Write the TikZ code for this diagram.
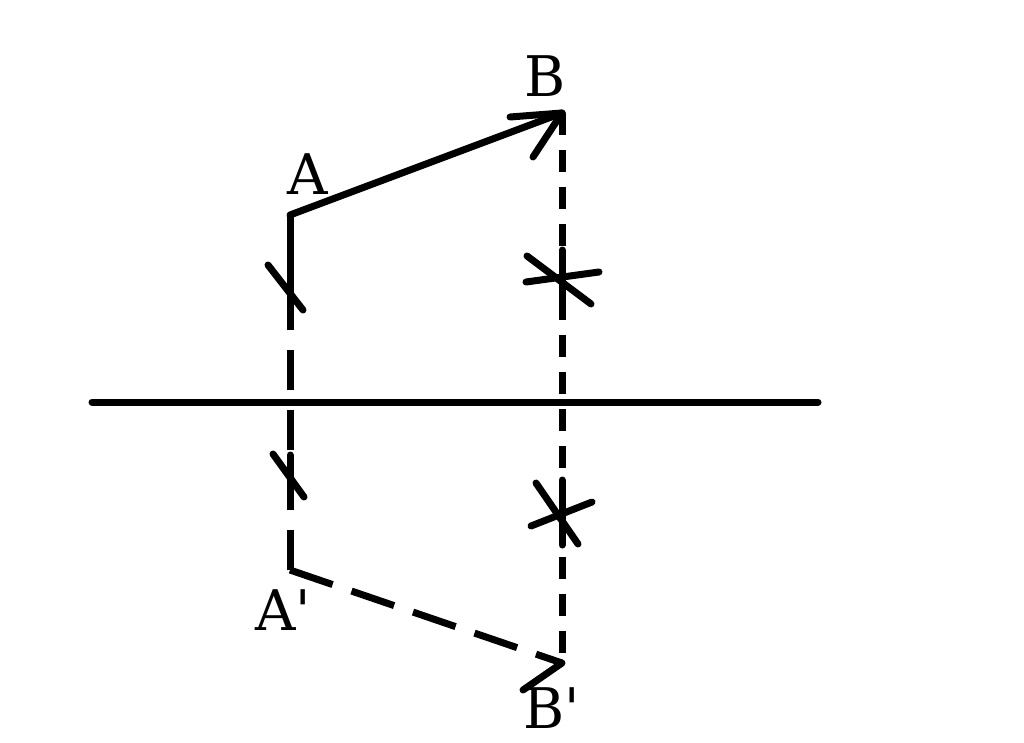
\documentclass[tikz,border=0pt]{standalone}
\usepackage{fontspec}
\setmainfont{DejaVu Serif}
\begin{document}
\begin{tikzpicture}[x=1pt,y=-1pt,
  thick line/.style={line width=7pt,line cap=round},
  longdash/.style={line width=7pt,dash pattern=on 40pt off 20pt},
  shortdash/.style={line width=7pt,dash pattern=on 22pt off 15pt},
  mark line/.style={line width=7pt,line cap=round},
  lbl/.style={font=\fontsize{56}{60}\selectfont,inner sep=0pt}]
\useasboundingbox (0,0) rectangle (1024,742);
\coordinate (A) at (290,215);
\coordinate (B) at (562,113);
\coordinate (A2) at (290,570);
\coordinate (B2) at (562,663);
\coordinate (L) at (92,402);
\coordinate (R) at (818,402);
% labels
\node[lbl] (la) at (308,174) {A};
\node[lbl] (lb) at (545,76) {B};
\node[lbl] (la2) at (283,610) {A\textquotesingle};
\node[lbl] (lb2) at (552,708) {B\textquotesingle};
% axis
\draw[thick line] (L) -- (R);
% verticals
\draw[longdash] (A2) -- (A);
\draw[thick line,line cap=butt] (A) -- ++(0,25);
\draw[thick line,line cap=butt] (A2) -- ++(0,-25);
\draw[shortdash] (B) -- (B2);
% AB vector
\draw[thick line] (A) -- (B);
\draw[thick line] (B) -- (510,117);
\draw[thick line] (B) -- (533,157);
% A'B' dashed
\draw[longdash,dash pattern=on 45pt off 20pt] (A2) -- (B2);
\draw[thick line] (B2) -- (523,690);
% ticks on left
\draw[mark line] (268,265) -- (303,310);
\draw[mark line] (290,270) -- (290,305);
\draw[mark line] (273,454) -- (304,497);
\draw[mark line] (290,455) -- (290,495);
% crosses on right
\draw[mark line] (526,282) -- (599,272);
\draw[mark line] (527,256) -- (591,304);
\draw[mark line] (562,250) -- (562,310);
\draw[mark line] (531,526) -- (592,502);
\draw[mark line] (536,483) -- (578,544);
\draw[mark line] (562,480) -- (562,545);
\end{tikzpicture}
\end{document}
